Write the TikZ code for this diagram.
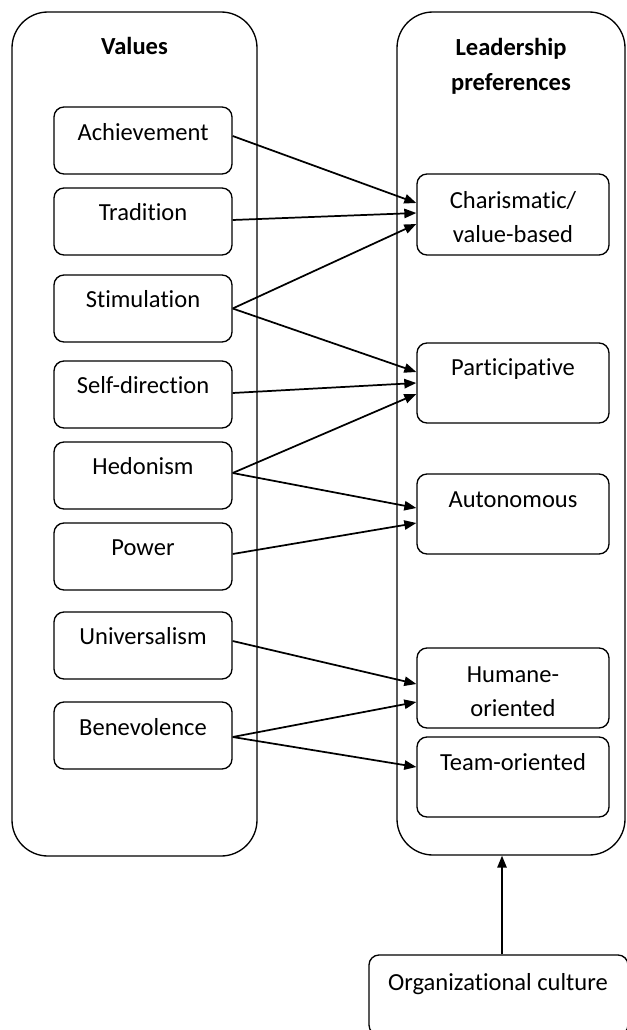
\documentclass[tikz,border=0pt]{standalone}
\usepackage{fontspec}
\setmainfont{Carlito}[Ligatures=NoCommon,RawFeature={-calt;-dlig;-liga}]
\usetikzlibrary{arrows.meta,calc}
\begin{document}
\begin{tikzpicture}[x=0.75pt,y=-0.75pt,
  every node/.style={font=\fontsize{18.4}{25.5}\selectfont},
  outerbox/.style={draw,line width=1pt,rounded corners=27pt,inner sep=0pt},
  leftbox/.style={draw,line width=1pt,rounded corners=7.5pt,minimum width=133.5pt,minimum height=50.25pt,inner sep=0pt},
  rightbox/.style={draw,line width=1pt,rounded corners=7.5pt,minimum width=144pt,minimum height=60pt,inner sep=0pt},
  lbl/.style={inner sep=0pt,align=center},
  hdr/.style={inner sep=0pt,align=center,font=\fontsize{18.4}{26.25}\selectfont\bfseries},
  arr/.style={line width=1.3pt,-{Triangle[length=9pt,width=7pt]}}
]
\useasboundingbox (0,0) rectangle (627,1030);
\clip (0,0) rectangle (627,1030);

% outer containers
\node[outerbox,minimum width=183.75pt,minimum height=633pt] (vals) at (134.5,434) {};
\node[outerbox,minimum width=171pt,minimum height=632.25pt] (lead) at (511,433.5) {};
\node[hdr] (valsT) at (134.5,48) {\strut Values};
\node[hdr] (leadT) at (511,65.7) {\strut Leadership\\\strut preferences};

% value boxes
\node[leftbox] (ach)  at (143,140.5) {};
\node[leftbox] (trad) at (143,221.5) {};
\node[leftbox] (stim) at (143,308.5) {};
\node[leftbox] (self) at (143,394.5) {};
\node[leftbox] (hed)  at (143,475.5) {};
\node[leftbox] (pow)  at (143,556.5) {};
\node[leftbox] (uni)  at (143,645.5) {};
\node[leftbox] (ben)  at (143,735.5) {};
\node[lbl] (achT)  at (143,134) {\strut Achievement};
\node[lbl] (tradT) at (143,214) {\strut Tradition};
\node[lbl] (stimT) at (143,301) {\strut Stimulation};
\node[lbl] (selfT) at (143,387) {\strut Self-direction};
\node[lbl] (hedT)  at (143,468) {\strut Hedonism};
\node[lbl] (powT)  at (143,549) {\strut Power};
\node[lbl] (uniT)  at (143,638) {\strut Universalism};
\node[lbl] (benT)  at (143,729) {\strut Benevolence};

% leadership boxes
\node[rightbox,minimum height=60.75pt] (char) at (513,214.5) {};
\node[rightbox] (part) at (513,383) {};
\node[rightbox] (auto) at (513,514) {};
\node[rightbox] (hum)  at (513,688) {};
\node[rightbox] (team) at (513,777) {};
\node[lbl] (charT) at (513,219) {\strut Charismatic/\\\strut value-based};
\node[lbl] (partT) at (513,369) {\strut Participative};
\node[lbl] (autoT) at (513,501) {\strut Autonomous};
\node[lbl] (humT)  at (513,693) {\strut Humane-\\\strut oriented};
\node[lbl] (teamT) at (513,764) {\strut Team-oriented};

% organizational culture
\node[draw,line width=1pt,rounded corners=7.5pt,minimum width=194.25pt,minimum height=60pt,inner sep=0pt] (org) at (498.5,995) {};
\node[lbl] (orgT) at (498,984) {\strut Organizational culture};

% connectors
\draw[arr] ($(ach.east)+(0,-4.5)$)  -- ($(char.west)+(0,-11.5)$);
\draw[arr] ($(trad.east)+(0,-1.5)$) -- ($(char.west)+(0,-1.5)$);
\draw[arr] (stim.east) -- ($(char.west)+(0,9.5)$);
\draw[arr] (stim.east) -- ($(part.west)+(0,-11)$);
\draw[arr] ($(self.east)+(0,-1.5)$) -- (part.west);
\draw[arr] ($(hed.east)+(0,-2.5)$) -- ($(part.west)+(0,11)$);
\draw[arr] ($(hed.east)+(0,-2.5)$) -- ($(auto.west)+(0,-6)$);
\draw[arr] ($(pow.east)+(0,-2.5)$) -- ($(auto.west)+(0,9)$);
\draw[arr] ($(uni.east)+(0,-4.5)$) -- ($(hum.west)+(0,-4)$);
\draw[arr] ($(ben.east)+(0,1.5)$) -- ($(hum.west)+(0,14)$);
\draw[arr] ($(ben.east)+(0,1.5)$) -- ($(team.west)+(0,-10)$);
\draw[arr] ($(org.north)+(3.5,0)$) -- ($(org.north|-lead.south)+(3.5,0)$);
\end{tikzpicture}
\end{document}
